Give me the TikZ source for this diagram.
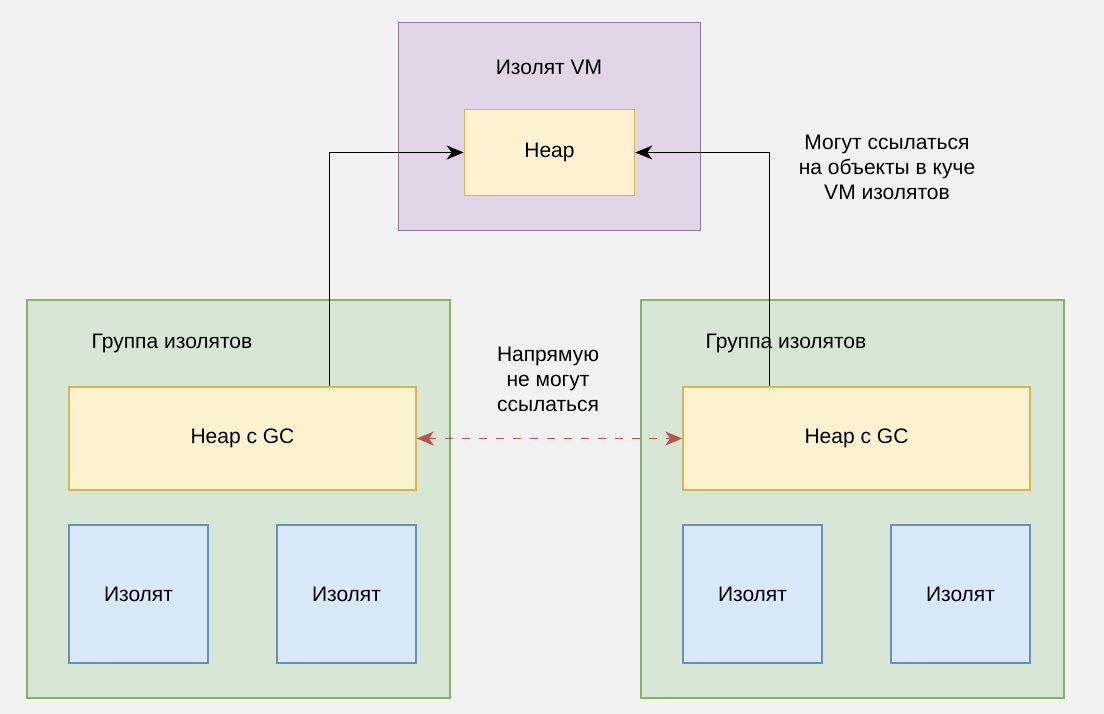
\documentclass[tikz,border=0pt]{standalone}
\usepackage{fontspec}
\setmainfont{Liberation Sans}
\usepackage{xcolor}
\usetikzlibrary{arrows.meta,positioning}

\definecolor{bgcol}{HTML}{F2F2F2}
\definecolor{vmfill}{HTML}{E1D5E7}
\definecolor{vmline}{HTML}{9673A6}
\definecolor{heapfill}{HTML}{FDF2CF}
\definecolor{heapline}{HTML}{D6B656}
\definecolor{grpfill}{HTML}{D8E7D5}
\definecolor{grpline}{HTML}{82B366}
\definecolor{isofill}{HTML}{DAE8FC}
\definecolor{isoline}{HTML}{6C8EBF}
\definecolor{redline}{HTML}{B85450}

\begin{document}
\begin{tikzpicture}[
  x=1pt, y=-1pt,
  every node/.style={font=\fontsize{21}{25}\selectfont, inner sep=0pt},
  vmbox/.style={draw=vmline, fill=vmfill, line width=1.6pt, minimum width=302pt, minimum height=208pt},
  heapbox/.style={draw=heapline, fill=heapfill, line width=1.6pt, align=center},
  grpbox/.style={draw=grpline, fill=grpfill, line width=1.6pt, minimum width=423pt, minimum height=398pt},
  isobox/.style={draw=isoline, fill=isofill, line width=1.6pt, minimum width=139pt, minimum height=138pt},
  note/.style={align=center},
  arr/.style={-{Stealth[length=17pt,width=14pt,inset=5pt]}, line width=1.8pt},
  noref/.style={{Stealth[length=17pt,width=14pt,inset=5pt]}-{Stealth[length=17pt,width=14pt,inset=5pt]}, line width=1.8pt, draw=redline, dash pattern=on 8pt off 9pt}
]
\fill[bgcol] (0,0) rectangle (1104,714);

% isolate VM
\node[vmbox] (vm) at (549.5,126.5) {};
\node (vmlabel) at (549,67.5) {Изолят VM};
\node[heapbox, minimum width=170pt, minimum height=86pt] (heap) at (549.5,152.5) {Heap};

% left group
\node[grpbox] (lgrp) at (238.5,499) {};
\node (llabel) at (172,343) {Группа изолятов};
\node[heapbox, minimum width=347pt, minimum height=103pt] (lheap) at (242.5,438.5) {Heap c GC};
\node[isobox] (liso1) at (138.5,594) {Изолят};
\node[isobox] (liso2) at (346.5,594) {Изолят};

% right group
\node[grpbox] (rgrp) at (852.5,499) {};
\node (rlabel) at (786,343) {Группа изолятов};
\node[heapbox, minimum width=347pt, minimum height=103pt] (rheap) at (856.5,438.5) {Heap c GC};
\node[isobox] (riso1) at (752.5,594) {Изолят};
\node[isobox] (riso2) at (960.5,594) {Изолят};

% notes
\node[note] (cannote) at (887,167) {Могут ссылаться\\на объекты в куче\\VM изолятов};
\node[note] (cantnote) at (548,379) {Напрямую\\не могут\\ссылаться};

\draw[arr] ([xshift=87pt]lheap.north) |- (heap.west);
\draw[arr] ([xshift=-87pt]rheap.north) |- (heap.east);
\draw[noref] (lheap.east) -- (rheap.west);
\end{tikzpicture}
\end{document}
